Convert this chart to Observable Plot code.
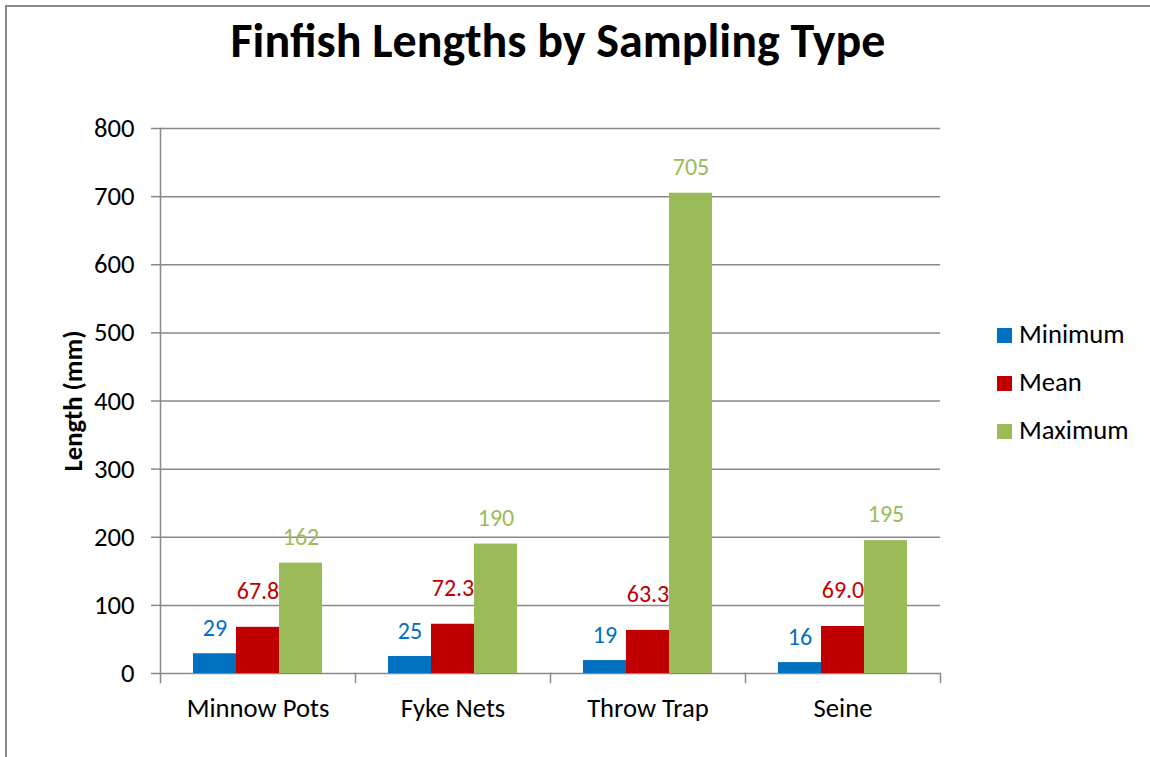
<!DOCTYPE html>
<html>
<head>
<meta charset="utf-8">
<script src="https://cdn.jsdelivr.net/npm/d3@7"></script>
<script src="https://cdn.jsdelivr.net/npm/@observablehq/plot@0.6"></script>
<style>
  html, body { margin: 0; padding: 0; background: #fff; }
  #wrap { position: relative; width: 1150px; height: 757px; overflow: hidden; font-family: Carlito, Calibri, "Open Sans", sans-serif; color: #000; }
  #border { position: absolute; left: 5px; top: 5px; width: 2000px; height: 2000px; border-left: 2px solid #898989; border-top: 2px solid #898989; }
  #title { position: absolute; left: 0; top: 17px; width: 1116px; text-align: center; font-weight: bold; font-size: 48px; line-height: 48px; white-space: nowrap; }
  #chart { position: absolute; left: 0; top: 90px; }
  #legend { position: absolute; left: 997px; top: 310px; font-size: 26.67px; line-height: 48px; white-space: nowrap; }
  #legend .sw { display: inline-block; width: 15px; height: 15px; margin-right: 7px; vertical-align: baseline; }
</style>
</head>
<body>
<div id="wrap">
  <div id="border"></div>
  <div id="title">Finfish Lengths by Sampling Type</div>
  <div id="chart"></div>
  <div id="legend"></div>
</div>
<script>
// Finfish length summary (mm) for each sampling gear
const categories = ["Minnow Pots", "Fyke Nets", "Throw Trap", "Seine"];
const series = ["Minimum", "Mean", "Maximum"];
const minimum = [29, 25, 19, 16];
const mean = [67.8, 72.3, 63.3, 69.0];
const maximum = [162, 190, 705, 195];
const seriesColors = ["#0070C0", "#C00000", "#9BBB59"];
const yTicks = [0, 100, 200, 300, 400, 500, 600, 700, 800];
const yLabel = "Length (mm)";

const valuesBySeries = [minimum, mean, maximum];
const rows = categories.flatMap((category, i) =>
  series.map((s, j) => ({category, series: s, value: valuesBySeries[j][i]}))
);

// value label formats and how far each series' labels sit above their bars
const labelFormat = {Minimum: d3.format("d"), Mean: d3.format(".1f"), Maximum: d3.format("d")};
const labelLift = {Minimum: 25, Mean: 36, Maximum: 26};

const W = 1150, H = 667;
const mTop = 38, mBottom = 84, mLeft = 159, mRight = 210;
const plotH = H - mTop - mBottom;
const gray = "#898989";
const font = "Carlito, Calibri, 'Open Sans', sans-serif";

const chart = Plot.plot({
  width: W,
  height: H,
  marginTop: mTop,
  marginBottom: mBottom,
  marginLeft: mLeft,
  marginRight: mRight,
  style: {fontFamily: font, fontSize: "26.67px", color: "#000", background: "transparent", overflow: "visible"},
  fx: {domain: categories, padding: 0, axis: null},
  x: {domain: series, paddingInner: 0, paddingOuter: 0.744, axis: null},
  y: {domain: [0, 800], axis: null},
  color: {domain: series, range: seriesColors},
  marks: [
    Plot.gridY(yTicks, {stroke: gray, strokeOpacity: 1, strokeWidth: 1.5}),
    Plot.barY(rows, {fx: "category", x: "series", y: "value", fill: "series", inset: 0}),
    ...series.map(s =>
      Plot.text(rows.filter(d => d.series === s), {
        fx: "category", x: "series", y: "value",
        text: d => labelFormat[s](d.value),
        fill: "series",
        fontSize: 24,
        lineAnchor: "middle",
        dy: -labelLift[s]
      })
    ),
    // y axis line (with the first category tick below it)
    Plot.frame({anchor: "left", fx: [categories[0]], stroke: gray, strokeWidth: 1.5, insetBottom: -9}),
    // category boundary ticks under the baseline
    Plot.frame({anchor: "right", stroke: gray, strokeWidth: 1.5, insetTop: plotH, insetBottom: -9}),
    Plot.axisY(yTicks, {anchor: "left", tickSize: 9, tickPadding: 17, stroke: gray, strokeWidth: 1.5, fontSize: 26.67, label: null}),
    Plot.axisFx({anchor: "bottom", tickSize: 0, tickPadding: 25, fontSize: 26.67, label: null}),
    Plot.text([yLabel], {
      fx: [categories[0]],
      frameAnchor: "left",
      rotate: -90,
      dx: -87,
      fontSize: 26.67,
      fontWeight: "bold",
      lineAnchor: "middle",
      textAnchor: "middle"
    })
  ]
});
document.getElementById("chart").appendChild(chart);

// legend: one row per series
const legend = d3.select("#legend");
series.forEach((s, i) => {
  const row = legend.append("div");
  row.append("span").attr("class", "sw").style("background", seriesColors[i]);
  row.append("span").text(s);
});
</script>
</body>
</html>
